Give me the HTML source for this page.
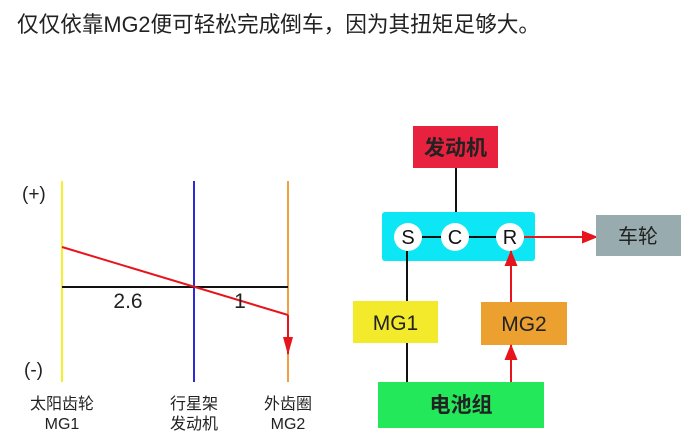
<!DOCTYPE html>
<html><head><meta charset="utf-8"><style>
html,body{margin:0;padding:0;background:#fff;}
svg{display:block;}
text{font-family:"Liberation Sans","Noto Sans CJK SC",sans-serif;}
</style></head><body>
<svg width="700" height="436" viewBox="0 0 700 436" xmlns="http://www.w3.org/2000/svg">
<defs>
<marker id="ah2" markerWidth="16" markerHeight="14" refX="15" refY="7" orient="auto" markerUnits="userSpaceOnUse"><path d="M0,0.5 L16,7 L0,13.5 z" fill="#e8141c"/></marker>
<marker id="ah3" markerWidth="18" markerHeight="10" refX="17" refY="5" orient="auto" markerUnits="userSpaceOnUse"><path d="M0,0 L18,5 L0,10 z" fill="#e8141c"/></marker>
</defs>
<text x="17" y="32" font-size="22" fill="#222" textLength="523" lengthAdjust="spacingAndGlyphs">仅仅依靠MG2便可轻松完成倒车，因为其扭矩足够大。</text>

<line x1="62" y1="181" x2="62" y2="382" stroke="#f5f02a" stroke-width="2"/>
<line x1="194" y1="181" x2="194" y2="382" stroke="#2a2ad8" stroke-width="2"/>
<line x1="288" y1="181" x2="288" y2="382" stroke="#f0a040" stroke-width="2"/>
<line x1="62" y1="287" x2="288" y2="287" stroke="#111" stroke-width="2"/>
<line x1="62" y1="247" x2="288" y2="315" stroke="#e8141c" stroke-width="2"/>
<line x1="288" y1="315" x2="288" y2="354" stroke="#e8141c" stroke-width="2" marker-end="url(#ah3)"/>
<text x="22" y="200" font-size="19" fill="#222">(+)</text>
<text x="24" y="376" font-size="19" fill="#222">(-)</text>
<text x="128" y="308" font-size="21" fill="#222" text-anchor="middle">2.6</text>
<text x="240" y="308" font-size="21" fill="#222" text-anchor="middle">1</text>
<text x="62" y="409" font-size="16" fill="#222" text-anchor="middle">太阳齿轮</text>
<text x="62" y="429" font-size="16" fill="#222" text-anchor="middle">MG1</text>
<text x="194" y="409" font-size="16" fill="#222" text-anchor="middle">行星架</text>
<text x="194" y="429" font-size="16" fill="#222" text-anchor="middle">发动机</text>
<text x="288" y="409" font-size="16" fill="#222" text-anchor="middle">外齿圈</text>
<text x="288" y="429" font-size="16" fill="#222" text-anchor="middle">MG2</text>

<line x1="456" y1="168" x2="456" y2="214" stroke="#111" stroke-width="2"/>
<rect x="413" y="126" width="85" height="42" fill="#e8213f"/>
<text x="455.5" y="155" font-size="21" font-weight="bold" fill="#222" text-anchor="middle">发动机</text>
<rect x="382" y="212" width="153" height="49" rx="3" fill="#0ce6f5"/>
<line x1="408" y1="237" x2="510" y2="237" stroke="#111" stroke-width="2"/>
<circle cx="408" cy="237" r="14" fill="#fff"/>
<circle cx="455" cy="237" r="14" fill="#fff"/>
<circle cx="510" cy="237" r="14" fill="#fff"/>
<text x="408" y="244" font-size="20" fill="#111" text-anchor="middle">S</text>
<text x="455" y="244" font-size="20" fill="#111" text-anchor="middle">C</text>
<text x="510" y="244" font-size="20" fill="#111" text-anchor="middle">R</text>
<line x1="524" y1="237" x2="597" y2="237" stroke="#e8141c" stroke-width="2" marker-end="url(#ah2)"/>
<rect x="596" y="215" width="85" height="41" fill="#98acaf"/>
<text x="638" y="243" font-size="20" fill="#222" text-anchor="middle">车轮</text>
<line x1="407" y1="251" x2="407" y2="382" stroke="#111" stroke-width="2"/>
<rect x="353" y="301" width="85" height="42" fill="#f2ea2a"/>
<text x="395.5" y="330" font-size="21" fill="#222" text-anchor="middle">MG1</text>
<rect x="481" y="302" width="86" height="43" fill="#eba030"/>
<text x="524" y="331" font-size="21" fill="#222" text-anchor="middle">MG2</text>
<line x1="511" y1="302" x2="511" y2="251" stroke="#e8141c" stroke-width="2" marker-end="url(#ah2)"/>
<line x1="511" y1="384" x2="511" y2="345" stroke="#e8141c" stroke-width="2" marker-end="url(#ah2)"/>
<rect x="378" y="382" width="166" height="46" fill="#22e85a"/>
<text x="461" y="412" font-size="21" font-weight="bold" fill="#222" text-anchor="middle">电池组</text>
</svg>
</body></html>
